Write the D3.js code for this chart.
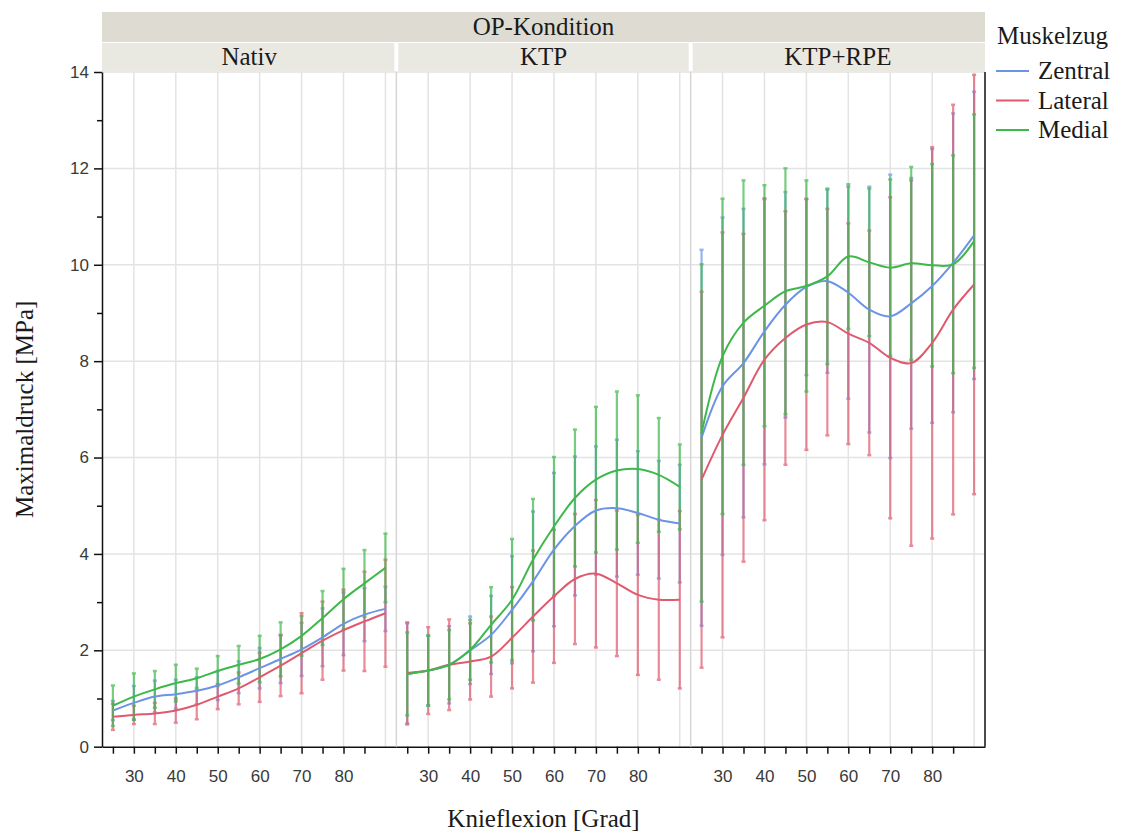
<!DOCTYPE html>
<html>
<head>
<meta charset="utf-8">
<script src="https://cdn.jsdelivr.net/npm/d3@7"></script>
<style>
  body { margin: 0; background: #fff; }
  svg text { font-family: "Liberation Serif", "Times New Roman", serif; }
  .tick text { font-family: "Liberation Sans", Arial, sans-serif; font-size: 17px; fill: #3a3a3a; }
</style>
</head>
<body>
<div id="chart"></div>
<script>
// ---- data ----
var conditions = ["Nativ", "KTP", "KTP+RPE"];
var muskelzug = ["Zentral", "Lateral", "Medial"];
var flexion = [25, 30, 35, 40, 45, 50, 55, 60, 65, 70, 75, 80, 85, 90];

var nativZentral   = [0.75, 0.91, 1.04, 1.09, 1.16, 1.27, 1.44, 1.63, 1.82, 2.02, 2.27, 2.55, 2.74, 2.86];
var nativZentralSd = [0.20, 0.35, 0.33, 0.30, 0.28, 0.30, 0.33, 0.42, 0.50, 0.55, 0.60, 0.65, 0.55, 0.46];
var nativLateral   = [0.62, 0.66, 0.69, 0.75, 0.87, 1.04, 1.21, 1.44, 1.68, 1.94, 2.20, 2.42, 2.60, 2.77];
var nativLateralSd = [0.27, 0.19, 0.22, 0.25, 0.30, 0.26, 0.33, 0.51, 0.63, 0.83, 0.81, 0.84, 1.03, 1.11];
var nativMedial    = [0.85, 1.04, 1.19, 1.32, 1.42, 1.57, 1.70, 1.82, 2.02, 2.30, 2.67, 3.06, 3.39, 3.71];
var nativMedialSd  = [0.42, 0.48, 0.38, 0.38, 0.20, 0.31, 0.39, 0.48, 0.56, 0.41, 0.56, 0.63, 0.69, 0.71];

var ktpZentral   = [1.51, 1.58, 1.70, 2.00, 2.32, 2.84, 3.43, 4.09, 4.58, 4.90, 4.95, 4.85, 4.71, 4.63];
var ktpZentralSd = [1.05, 0.72, 0.80, 0.70, 0.81, 1.11, 1.45, 1.59, 1.44, 1.33, 1.42, 1.28, 1.22, 1.22];
var ktpLateral   = [1.53, 1.58, 1.70, 1.77, 1.87, 2.26, 2.70, 3.12, 3.48, 3.59, 3.39, 3.15, 3.05, 3.05];
var ktpLateralSd = [1.05, 0.90, 0.94, 0.79, 0.83, 1.05, 1.37, 1.38, 1.35, 1.53, 1.51, 1.66, 1.66, 1.84];
var ktpMedial    = [1.51, 1.58, 1.70, 2.01, 2.53, 3.05, 3.88, 4.57, 5.16, 5.54, 5.73, 5.76, 5.64, 5.39];
var ktpMedialSd  = [0.86, 0.73, 0.72, 0.62, 0.78, 1.26, 1.26, 1.44, 1.42, 1.51, 1.64, 1.53, 1.18, 0.88];

var rpeZentral   = [6.41, 7.48, 7.96, 8.62, 9.17, 9.54, 9.66, 9.42, 9.07, 8.93, 9.20, 9.56, 10.04, 10.61];
var rpeZentralSd = [3.90, 3.50, 3.20, 2.76, 2.34, 1.83, 1.90, 2.20, 2.55, 2.94, 2.60, 2.84, 3.10, 2.98];
var rpeLateral   = [5.54, 6.47, 7.24, 8.03, 8.48, 8.76, 8.81, 8.57, 8.38, 8.07, 7.96, 8.38, 9.07, 9.59];
var rpeLateralSd = [3.90, 4.20, 3.40, 3.33, 2.63, 2.60, 2.35, 2.29, 2.33, 3.33, 3.79, 4.06, 4.25, 4.35];
var rpeMedial    = [6.51, 8.10, 8.80, 9.15, 9.45, 9.56, 9.76, 10.17, 10.05, 9.94, 10.03, 9.99, 10.01, 10.49];
var rpeMedialSd  = [3.50, 3.27, 2.95, 2.50, 2.55, 2.19, 1.82, 1.50, 1.53, 1.83, 2.00, 2.10, 2.26, 2.63];

var yMajor = [0, 2, 4, 6, 8, 10, 12, 14];
var yMinor = [1, 3, 5, 7, 9, 11, 13];
var xTicks = [25, 30, 35, 40, 45, 50, 55, 60, 65, 70, 75, 80, 85];
var xGrid = [30, 40, 50, 60, 70, 80, 90];

var panelData = [
  [[nativZentral, nativZentralSd], [nativLateral, nativLateralSd], [nativMedial, nativMedialSd]],
  [[ktpZentral, ktpZentralSd], [ktpLateral, ktpLateralSd], [ktpMedial, ktpMedialSd]],
  [[rpeZentral, rpeZentralSd], [rpeLateral, rpeLateralSd], [rpeMedial, rpeMedialSd]]
];

// ---- layout ----
var W = 1121, H = 834;
var plotLeft = 102, plotRight = 985, plotTop = 72, plotBottom = 746.7;
var pw = (plotRight - plotLeft) / 3;
var titleSize = "25px";

var color = d3.scaleOrdinal()
    .domain(muskelzug)
    .range(["#6b94e6", "#e05a6e", "#3db949"]);

var y = d3.scaleLinear().domain([0, 14]).range([plotBottom, plotTop]);
var x = d3.scaleLinear().domain([22.4, 92.6]).range([0, pw]);

var svg = d3.select("#chart").append("svg")
    .attr("width", W)
    .attr("height", H);

// strips
svg.append("rect")
    .attr("x", plotLeft).attr("y", 12).attr("width", plotRight - plotLeft).attr("height", 30)
    .attr("fill", "#dedcd2");
svg.append("text")
    .attr("x", (plotLeft + plotRight) / 2).attr("y", 35)
    .attr("text-anchor", "middle")
    .style("font-size", titleSize).style("fill", "#1a1a1a")
    .text("OP-Kondition");

conditions.forEach(function (c, i) {
  var px = plotLeft + i * pw;
  svg.append("rect")
      .attr("x", px + (i === 0 ? 0 : 2)).attr("y", 43)
      .attr("width", pw - (i === 0 ? 2 : 4) + (i === 2 ? 2 : 0)).attr("height", 28)
      .attr("fill", "#e9e8e1");
  svg.append("text")
      .attr("x", px + pw / 2).attr("y", 65)
      .attr("text-anchor", "middle")
      .style("font-size", titleSize).style("fill", "#1a1a1a")
      .text(c);
});

// panels
conditions.forEach(function (c, i) {
  var g = svg.append("g").attr("transform", "translate(" + (plotLeft + i * pw) + ",0)");

  // grid
  g.selectAll(".hgrid").data(yMajor.slice(1)).enter().append("line")
      .attr("x1", 0).attr("x2", pw)
      .attr("y1", function (d) { return y(d); }).attr("y2", function (d) { return y(d); })
      .attr("stroke", "#e3e3e3").attr("stroke-width", 1.5);
  g.selectAll(".vgrid").data(xGrid).enter().append("line")
      .attr("x1", function (d) { return x(d); }).attr("x2", function (d) { return x(d); })
      .attr("y1", plotTop).attr("y2", plotBottom)
      .attr("stroke", "#e3e3e3").attr("stroke-width", 1.5);
  if (i > 0) {
    g.append("line")
        .attr("x1", 0).attr("x2", 0).attr("y1", plotTop).attr("y2", plotBottom)
        .attr("stroke", "#d6d6d6").attr("stroke-width", 1.5);
  }

  // error bars
  panelData[i].forEach(function (s, k) {
    var col = color(muskelzug[k]);
    var pts = flexion.map(function (f, j) { return { f: f, m: s[0][j], sd: s[1][j] }; });
    var eb = g.append("g").attr("opacity", 0.7);
    eb.selectAll("line.bar").data(pts).enter().append("line")
        .attr("x1", function (d) { return x(d.f); }).attr("x2", function (d) { return x(d.f); })
        .attr("y1", function (d) { return y(d.m - d.sd); }).attr("y2", function (d) { return y(d.m + d.sd); })
        .attr("stroke", col).attr("stroke-width", 2.2);
    eb.selectAll("line.capt").data(pts).enter().append("line")
        .attr("x1", function (d) { return x(d.f) - 2; }).attr("x2", function (d) { return x(d.f) + 2; })
        .attr("y1", function (d) { return y(d.m + d.sd); }).attr("y2", function (d) { return y(d.m + d.sd); })
        .attr("stroke", col).attr("stroke-width", 2.5);
    eb.selectAll("line.capb").data(pts).enter().append("line")
        .attr("x1", function (d) { return x(d.f) - 2; }).attr("x2", function (d) { return x(d.f) + 2; })
        .attr("y1", function (d) { return y(d.m - d.sd); }).attr("y2", function (d) { return y(d.m - d.sd); })
        .attr("stroke", col).attr("stroke-width", 2.5);
  });

  // lines
  panelData[i].forEach(function (s, k) {
    var line = d3.line()
        .x(function (d, j) { return x(flexion[j]); })
        .y(function (d) { return y(d); })
        .curve(d3.curveCatmullRom.alpha(0.5));
    g.append("path")
        .datum(s[0])
        .attr("d", line)
        .attr("fill", "none")
        .attr("stroke", color(muskelzug[k]))
        .attr("stroke-width", 2);
  });

  // x axis
  var xa = g.append("g")
      .attr("transform", "translate(0," + plotBottom + ")")
      .call(d3.axisBottom(x).tickValues(xTicks).tickSize(7).tickSizeOuter(0)
        .tickFormat(function (d) { return d % 10 === 0 ? d : ""; }));
  xa.select(".domain").attr("stroke", "#111").attr("stroke-width", 1.5);
  xa.selectAll(".tick line").attr("stroke", "#111").attr("stroke-width", 1.5);
  xa.selectAll(".tick text").attr("y", 23);
});

// y axis
var ya = svg.append("g")
    .attr("transform", "translate(" + plotLeft + ",0)")
    .call(d3.axisLeft(y).tickValues(yMajor).tickSize(8).tickPadding(5).tickSizeOuter(0));
ya.select(".domain").attr("stroke", "#111").attr("stroke-width", 1.5);
ya.selectAll(".tick line").attr("stroke", "#111").attr("stroke-width", 1.5);
var yb = svg.append("g")
    .attr("transform", "translate(" + plotLeft + ",0)")
    .call(d3.axisLeft(y).tickValues(yMinor).tickSize(5).tickFormat(""));
yb.select(".domain").remove();
yb.selectAll(".tick line").attr("stroke", "#111").attr("stroke-width", 1.5);

// right border
svg.append("line")
    .attr("x1", plotRight).attr("x2", plotRight).attr("y1", plotTop).attr("y2", plotBottom)
    .attr("stroke", "#111").attr("stroke-width", 1.5);

// axis titles
svg.append("text")
    .attr("transform", "translate(33," + ((plotTop + plotBottom) / 2) + ") rotate(-90)")
    .attr("text-anchor", "middle")
    .style("font-size", titleSize).style("fill", "#1a1a1a")
    .text("Maximaldruck [MPa]");
svg.append("text")
    .attr("x", (plotLeft + plotRight) / 2).attr("y", 827)
    .attr("text-anchor", "middle")
    .style("font-size", titleSize).style("fill", "#1a1a1a")
    .text("Knieflexion [Grad]");

// legend
svg.append("text")
    .attr("x", 997).attr("y", 44)
    .style("font-size", titleSize).style("fill", "#1a1a1a")
    .text("Muskelzug");
var leg = svg.selectAll(".leg").data(muskelzug).enter().append("g")
    .attr("transform", function (d, i) { return "translate(996," + (71 + i * 29.5) + ")"; });
leg.append("line")
    .attr("x1", 0).attr("x2", 33).attr("y1", 0).attr("y2", 0)
    .attr("stroke", function (d) { return color(d); }).attr("stroke-width", 2);
leg.append("text")
    .attr("x", 42).attr("y", 8)
    .style("font-size", titleSize).style("fill", "#1a1a1a")
    .text(function (d) { return d; });
</script>
</body>
</html>
